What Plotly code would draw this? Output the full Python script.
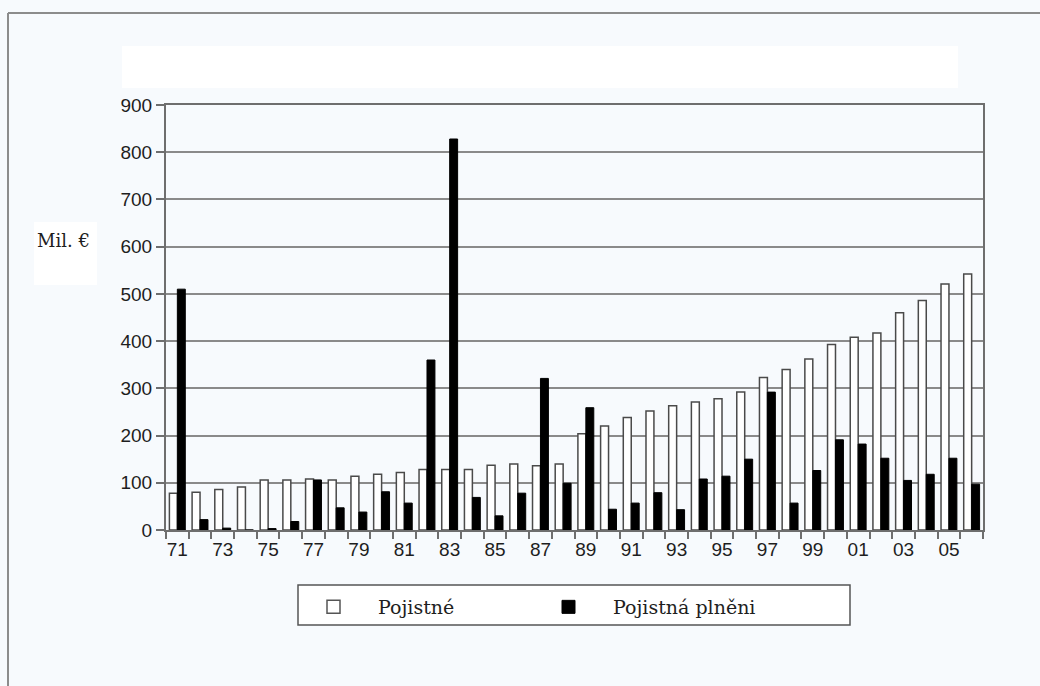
import plotly.graph_objects as go

# ---- data ----
years = list(range(1971, 2007))
year_labels = [f"{y % 100:02d}" for y in years]
pojistne = [78, 80, 86, 91, 106, 106, 108, 106, 114, 118, 122, 128, 128, 128, 137, 140, 136, 140,
            204, 220, 238, 252, 263, 271, 278, 292, 323, 340, 362, 393, 408, 417, 460, 486, 521, 542]
pojistna_plneni = [510, 22, 4, 0, 3, 18, 106, 47, 38, 81, 57, 360, 828, 69, 30, 78, 321, 99,
                   259, 44, 57, 79, 43, 108, 114, 150, 292, 57, 126, 191, 182, 152, 105, 118, 152, 97]
series_names = ["Pojistné", "Pojistná plněni"]
y_ticks = [0, 100, 200, 300, 400, 500, 600, 700, 800, 900]
x_tick_years = years[::2]
x_tick_text = year_labels[::2]

# ---- geometry helpers (layout only) ----
W, H = 1040, 686
ML, MR, MT, MB = 166, 57, 105, 156
PW, PH = W - ML - MR, H - MT - MB


def px_x(x):
    return (x - ML) / PW


def px_y(y):
    return (H - MB - y) / PH


BG = "#F7FAFD"
GRID = "#8a8a8a"
TXT = "#1e1e1e"

fig = go.Figure()
fig.add_trace(go.Bar(
    x=years, y=pojistne, name=series_names[0], showlegend=False, legendgroup="a",
    marker=dict(color="white", line=dict(color="#4a4a4a", width=1.5)),
))
fig.add_trace(go.Bar(
    x=years, y=pojistna_plneni, name=series_names[1], showlegend=False, legendgroup="b",
    marker=dict(color="black", line=dict(color="black", width=1)),
))
# legend entries with larger square symbols
fig.add_trace(go.Scatter(
    x=[None], y=[None], mode="markers", name=series_names[0], legendgroup="a",
    marker=dict(symbol="square", size=13, color="white", line=dict(color="#555555", width=1.5)),
))
fig.add_trace(go.Scatter(
    x=[None], y=[None], mode="markers", name=series_names[1], legendgroup="b",
    marker=dict(symbol="square", size=13, color="black", line=dict(color="black", width=1)),
))

shapes = [
    # outer frame (top and left)
    dict(type="line", xref="paper", yref="paper", x0=px_x(8), x1=px_x(1045), y0=px_y(13), y1=px_y(13),
         line=dict(color="#8c8c8c", width=2)),
    dict(type="line", xref="paper", yref="paper", x0=px_x(8), x1=px_x(8), y0=px_y(13), y1=px_y(700),
         line=dict(color="#8c8c8c", width=2)),
    # white erased title area
    dict(type="rect", xref="paper", yref="paper", x0=px_x(122), x1=px_x(958), y0=px_y(46), y1=px_y(88),
         fillcolor="white", line=dict(width=0), layer="below"),
    dict(type="rect", xref="paper", yref="paper", x0=px_x(34), x1=px_x(97), y0=px_y(222), y1=px_y(285),
         fillcolor="white", line=dict(width=0), layer="below"),
    # legend box
    dict(type="rect", xref="paper", yref="paper", x0=px_x(298), x1=px_x(850), y0=px_y(585), y1=px_y(625),
         fillcolor="white", line=dict(color="#555555", width=1.5)),
]

fig.update_layout(
    width=W, height=H,
    margin=dict(l=ML, r=MR, t=MT, b=MB, pad=0),
    paper_bgcolor=BG, plot_bgcolor=BG,
    barmode="group", bargap=0.3, bargroupgap=0.0,
    showlegend=True,
    legend=dict(
        orientation="h", x=px_x(289), y=px_y(588), xanchor="left", yanchor="top",
        bgcolor="rgba(0,0,0,0)", borderwidth=0,
        font=dict(family="DejaVu Serif", size=19, color=TXT),
        entrywidth=141, entrywidthmode="pixels", itemwidth=79,
    ),
    shapes=shapes,
    annotations=[
        dict(text="Mil. €", xref="paper", yref="paper", x=px_x(35), y=px_y(240),
             xanchor="left", yanchor="middle", showarrow=False,
             font=dict(family="DejaVu Serif", size=18, color=TXT)),
    ],
    font=dict(family="Liberation Sans", size=19, color=TXT),
)

fig.update_xaxes(
    range=[1970.5, 2006.5],
    tickmode="array", tickvals=x_tick_years, ticktext=x_tick_text,
    ticks="outside", ticklen=1, tickcolor="rgba(0,0,0,0)",
    showline=True, linecolor="#6e6e6e", linewidth=2, mirror=True,
    showgrid=False, zeroline=False,
    minor=dict(tickmode="linear", tick0=1970.5, dtick=1, ticks="outside", ticklen=7,
               tickcolor="#6e6e6e", tickwidth=1.5, showgrid=False),
    tickfont=dict(family="Liberation Sans", size=19, color=TXT),
)
fig.update_yaxes(
    range=[0, 900],
    tickmode="array", tickvals=y_ticks,
    ticks="outside", ticklen=8, tickcolor="#6e6e6e", tickwidth=1.5,
    showline=True, linecolor="#6e6e6e", linewidth=2, mirror=True,
    showgrid=True, gridcolor=GRID, gridwidth=1.5, zeroline=False,
    tickfont=dict(family="Liberation Sans", size=19, color=TXT),
)

fig.write_html(
    "out.html",
    config={"displayModeBar": False},
    post_script="document.body.style.margin='0px';document.body.style.overflow='hidden';",
)
